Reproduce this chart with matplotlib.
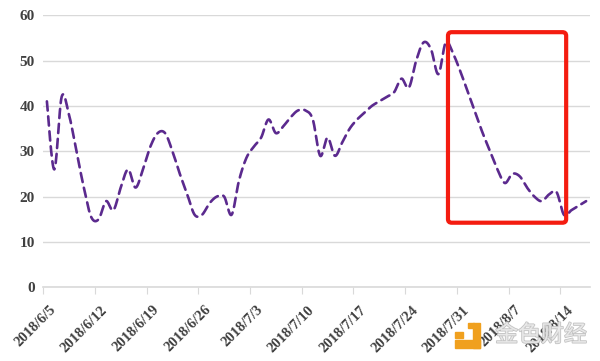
import numpy as np
import matplotlib
matplotlib.use("Agg")
import matplotlib.pyplot as plt
import matplotlib.transforms as mtransforms
from matplotlib.patches import FancyBboxPatch, Rectangle
import matplotlib.patheffects as pe

# daily values, 2018/6/5 .. 2018/8/17
values = [41, 26, 42, 38, 30, 22, 15.5, 15, 19, 17,
          22, 26, 22, 26, 31, 34, 34, 30, 25, 20.5,
          16, 16, 18.5, 20, 20, 16, 23.5, 28.5, 31, 33,
          37, 34, 35.5, 37.5, 39, 39, 37, 29, 33, 29,
          32, 35, 37, 38.5, 40, 41, 42, 43, 46, 44,
          50, 54, 52.5, 47, 54, 51.5, 47.5, 43, 38.5, 34,
          30, 26, 23, 25, 24.5, 22, 20, 19, 20.5, 21,
          16, 17, 18, 19]
tick_labels = ["2018/6/5", "2018/6/12", "2018/6/19", "2018/6/26", "2018/7/3",
               "2018/7/10", "2018/7/17", "2018/7/24", "2018/7/31", "2018/8/7",
               "2018/8/14"]
y_ticks = [0, 10, 20, 30, 40, 50, 60]

# highlighted window (day index, value range)
box_x = (54.8, 70.8)
box_y = (14.25, 56.25)


def smooth_line(x, y, steps=16):
    # bezier smoothing through every point, similar to Excel's smoothed line
    x = np.asarray(x, float)
    y = np.asarray(y, float)
    px = np.concatenate([[x[0]], x, [x[-1]]])
    py = np.concatenate([[y[0]], y, [y[-1]]])
    t = np.linspace(0, 1, steps, endpoint=False)
    xs, ys = [], []
    for i in range(1, len(px) - 2):
        x0, x1, x2, x3 = px[i - 1:i + 3]
        y0, y1, y2, y3 = py[i - 1:i + 3]
        cx1, cy1 = x1 + (x2 - x0) / 6, y1 + (y2 - y0) / 6
        cx2, cy2 = x2 - (x3 - x1) / 6, y2 - (y3 - y1) / 6
        a = (1 - t) ** 3
        b = 3 * (1 - t) ** 2 * t
        c = 3 * (1 - t) * t ** 2
        d = t ** 3
        xs.append(a * x1 + b * cx1 + c * cx2 + d * x2)
        ys.append(a * y1 + b * cy1 + c * cy2 + d * y2)
    xs.append([x[-1]])
    ys.append([y[-1]])
    return np.concatenate(xs), np.concatenate(ys)


fig = plt.figure(figsize=(6, 3.61), dpi=100)
ax = fig.add_axes([0.072, 0.204, 0.911, 0.754])

days = np.arange(len(values)) + 0.5
sx, sy = smooth_line(days, values)
ax.plot(sx, sy, color="#5B2A8E", lw=1.9, linestyle=(0, (3.5, 2.2)),
        solid_capstyle="round", dash_capstyle="round")

ax.set_xlim(0, len(values))
ax.set_ylim(0, 60)
ax.set_yticks(y_ticks)
tick_pos = np.arange(len(tick_labels)) * 7
ax.set_xticks(tick_pos)
ax.set_xticklabels([])

# rotated date labels, nudged a bit right/down like the original
lab_tr = (mtransforms.blended_transform_factory(ax.transData, ax.transAxes)
          + mtransforms.ScaledTranslation(6 / 100, -16 / 100, fig.dpi_scale_trans))
for pos, txt in zip(tick_pos, tick_labels):
    ax.text(pos, 0, txt, transform=lab_tr, rotation=45, ha="right", va="top",
            rotation_mode="anchor", family="Liberation Serif", fontweight="bold",
            fontsize=10.5, color="#404040", clip_on=False)

for lab in ax.get_yticklabels():
    lab.set_fontfamily("Liberation Serif")
    lab.set_fontweight("bold")
    lab.set_fontsize(11)
    lab.set_color("#404040")

ax.grid(axis="y", color="#d9d9d9", lw=1)
ax.set_axisbelow(True)
for side in ["top", "right", "left"]:
    ax.spines[side].set_visible(False)
ax.spines["bottom"].set_color("#d9d9d9")
ax.spines["bottom"].set_linewidth(1.2)
ax.tick_params(axis="x", length=5, color="#d9d9d9")
ax.tick_params(axis="y", length=0, pad=6)

box = FancyBboxPatch((box_x[0], box_y[0]), box_x[1] - box_x[0], box_y[1] - box_y[0],
                     boxstyle="round,pad=0,rounding_size=0.5", fill=False,
                     edgecolor="#F41C10", lw=3, mutation_aspect=1.6, zorder=5)
ax.add_patch(box)

# watermark
orange = "#F0A01E"
for (x0, y0, w, h) in [(455, 332, 8, 6), (468, 323, 6, 5), (473, 323, 7, 25), (455, 340, 25, 8)]:
    fig.patches.append(Rectangle((x0 / 600, 1 - (y0 + h) / 361), w / 600, h / 361,
                                 transform=fig.transFigure, color=orange, zorder=6))
fig.text(541 / 600, 1 - 335 / 361, "金色财经", fontsize=16.5, color="#ececec",
         family=["Noto Sans CJK SC", "DejaVu Sans"], ha="center", va="center", zorder=6,
         alpha=0.9, path_effects=[pe.withStroke(linewidth=1.2, foreground="#bdbdbd")])

fig.savefig("out.png", dpi=100)
